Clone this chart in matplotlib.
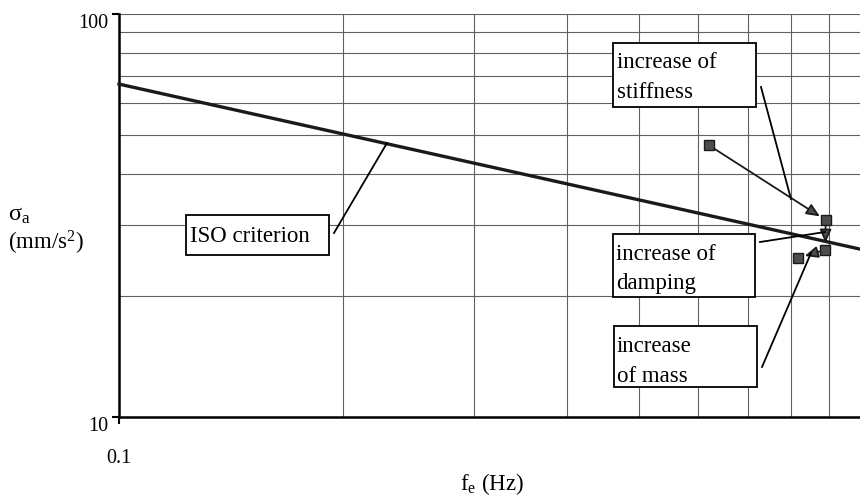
import matplotlib
matplotlib.use("Agg")
import matplotlib.pyplot as plt
from matplotlib.patches import Rectangle
from matplotlib.lines import Line2D
from matplotlib.ticker import FixedLocator, NullFormatter
import matplotlib.transforms as mtransforms

plt.rcParams['font.family'] = ['Liberation Serif', 'DejaVu Serif']
plt.rcParams['mathtext.fontset'] = 'custom'
plt.rcParams['mathtext.rm'] = 'Liberation Serif'
plt.rcParams['mathtext.it'] = 'Liberation Serif:italic'

# ---- data ----
iso_f = [0.1, 1.0]
iso_sigma = [67.0, 26.0]

point_labels = ["initial", "stiffness", "damping", "mass"]
point_f = [0.620, 0.891, 0.890, 0.818]
point_sigma = [47.3, 30.8, 26.0, 24.8]

x_major = [0.1]
x_minor = [0.2, 0.3, 0.4, 0.5, 0.6, 0.7, 0.8, 0.9]
y_major = [10, 100]
y_minor = [20, 30, 40, 50, 60, 70, 80, 90]

W, H = 860, 497
fig = plt.figure(figsize=(W / 100, H / 100), dpi=100)
ax = fig.add_axes([119 / W, 80 / H, 744 / W, 403 / H])
ax.set_xscale('log')
ax.set_yscale('log')
ax.set_xlim(0.1, 1.0)
ax.set_ylim(10, 100)

ax.xaxis.set_major_locator(FixedLocator(x_major))
ax.xaxis.set_minor_locator(FixedLocator(x_minor))
ax.yaxis.set_major_locator(FixedLocator(y_major))
ax.yaxis.set_minor_locator(FixedLocator(y_minor))
ax.set_xticklabels(['0.1'])
ax.set_yticklabels(['10', '100'])
ax.xaxis.set_minor_formatter(NullFormatter())
ax.yaxis.set_minor_formatter(NullFormatter())
ax.tick_params(which='major', direction='out', length=5, width=1.5, labelsize=14.5, color='black')
ax.tick_params(axis='x', which='major', pad=18)
ax.tick_params(axis='y', which='major', pad=3)
ax.tick_params(which='minor', length=0)
# shift y labels slightly down
off = mtransforms.ScaledTranslation(0, -7 / 100, fig.dpi_scale_trans)
for lab in ax.get_yticklabels():
    lab.set_transform(lab.get_transform() + off)

ax.grid(which='both', color='#606060', linewidth=0.8)
ax.set_axisbelow(True)
for s in ['top', 'right']:
    ax.spines[s].set_visible(False)
for s in ['left', 'bottom']:
    ax.spines[s].set_linewidth(1.8)

# ISO criterion line
ax.plot(iso_f, iso_sigma, color='#1a1a1a', linewidth=2.4, zorder=3, clip_on=False)

# points
ax.plot(point_f, point_sigma, linestyle='none', marker='s', markersize=7.5,
        markerfacecolor='#4d4d4d', markeredgecolor='#1a1a1a', zorder=5)

# arrows between successive points
arrow_kw = dict(arrowstyle='-|>,head_length=0.8,head_width=0.35', color='#1a1a1a',
                lw=1.3, shrinkA=4, shrinkB=5)
for i in range(1, len(point_f)):
    src = 0 if i == 1 else i - 1
    ax.annotate('', xy=(point_f[i], point_sigma[i]),
                xytext=(point_f[src], point_sigma[src]),
                arrowprops=dict(arrow_kw, fc='#4d4d4d', ec='#1a1a1a'), zorder=4)


def fx(x):
    return x / W


def fy(y):
    return 1 - y / H


def box(x0, y0, x1, y1, lines, centers, tx):
    fig.add_artist(Rectangle((fx(x0), fy(y1)), (x1 - x0) / W, (y1 - y0) / H,
                             transform=fig.transFigure, facecolor='white',
                             edgecolor='black', linewidth=1.3, zorder=10))
    for t, c in zip(lines, centers):
        fig.text(fx(tx), fy(c), t, fontsize=16.5, ha='left', va='center', zorder=11)


def leader(x0, y0, x1, y1):
    fig.add_artist(Line2D([fx(x0), fx(x1)], [fy(y0), fy(y1)], transform=fig.transFigure,
                          color='black', linewidth=1.3, zorder=9))


box(186, 215, 329, 255, ['ISO criterion'], [237], 190)
leader(334, 233, 387, 143)

box(613, 43, 756, 107, ['increase of', 'stiffness'], [62, 92], 617)
leader(761, 87, 791, 199)

box(613, 234, 755, 297, ['increase of', 'damping'], [255, 283], 616)
leader(760, 242, 825, 232)

box(614, 326, 757, 387, ['increase', 'of mass'], [347, 376], 617)
leader(762, 367, 811, 253)

# axis labels
fig.text(fx(8), fy(215), r'$\mathrm{\sigma_a}$', fontsize=17.5, ha='left', va='center')
fig.text(fx(8), fy(243), r'(mm/s$^2$)', fontsize=16.5, ha='left', va='center')
fig.text(fx(460), fy(484), r'f$_\mathrm{e}$ (Hz)', fontsize=16.5, ha='left', va='center')

fig.savefig('out.png', dpi=100)
